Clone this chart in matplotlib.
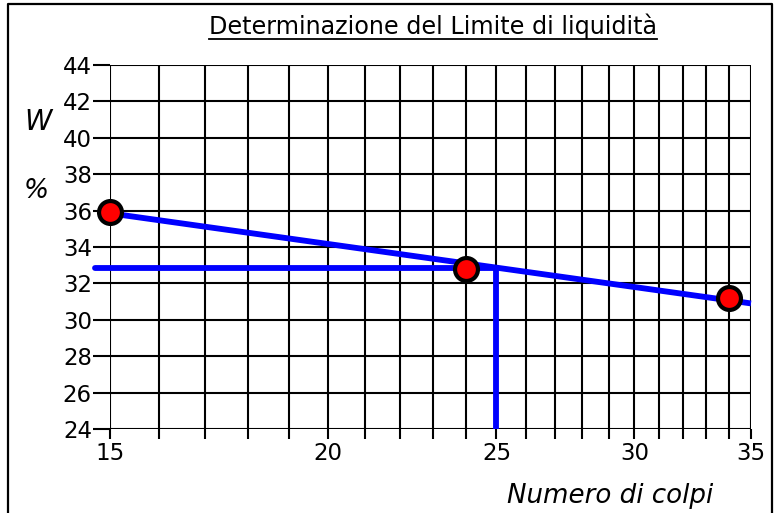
import numpy as np
import matplotlib
matplotlib.use("Agg")
import matplotlib.pyplot as plt
from matplotlib.ticker import FixedLocator, NullFormatter, FixedFormatter
from matplotlib.lines import Line2D

plt.rcParams['font.family'] = ['DejaVu Sans']

# Measured points: number of blows vs water content (%)
colpi = [15, 24, 34]
umidita = [35.9, 32.8, 31.2]

# Fitted flow line (semi-log) end points
retta_x = [15, 35]
retta_y = [35.85, 30.9]

# Liquid limit read at 25 blows
n_rif = 25
w_ll = 32.85
x_inizio_orizz = 14.7

x_major = [15, 20, 25, 30, 35]
x_minor = list(range(15, 36))
y_ticks = list(range(24, 45, 2))

W, H = 782, 513
fig = plt.figure(figsize=(W / 100, H / 100), dpi=100)
ax = fig.add_axes([110 / W, (H - 429) / H, (751 - 110) / W, (429 - 65) / H])

ax.set_xscale('log')
ax.set_xlim(15, 35)
ax.set_ylim(24, 44)

# grid: every blow count vertically, every 2 % horizontally
for xv in x_minor:
    ax.axvline(xv, color='black', lw=1.5, zorder=1)
for yv in y_ticks:
    ax.axhline(yv, color='black', lw=1.5, zorder=1)

ax.xaxis.set_major_locator(FixedLocator(x_major))
ax.xaxis.set_major_formatter(FixedFormatter([str(v) for v in x_major]))
ax.xaxis.set_minor_locator(FixedLocator([v for v in x_minor if v not in x_major]))
ax.xaxis.set_minor_formatter(NullFormatter())
ax.set_yticks(y_ticks)

ax.tick_params(axis='x', which='both', direction='out', length=7, width=1.5,
               labelsize=16.5, pad=2)
ax.tick_params(axis='y', direction='out', length=12, width=1.5,
               labelsize=16.5, pad=1)
for s in ax.spines.values():
    s.set_visible(False)

blu = '#0000ff'
# reading lines for the liquid limit
ax.plot([x_inizio_orizz, n_rif], [w_ll, w_ll], color=blu, lw=4.2,
        solid_capstyle='round', clip_on=False, zorder=3)
ax.plot([n_rif, n_rif], [w_ll, 24], color=blu, lw=4.2,
        solid_capstyle='butt', clip_on=False, zorder=3)
# flow line
ax.plot(retta_x, retta_y, color=blu, lw=4.2, solid_capstyle='butt',
        clip_on=False, zorder=4)
# measurements
ax.plot(colpi, umidita, linestyle='none', marker='o', markersize=16.5,
        markerfacecolor='red', markeredgecolor='black', markeredgewidth=3,
        clip_on=False, zorder=5)

# labels
fig.text(38 / W, 1 - 122 / H, 'W', fontsize=20, style='italic',
         ha='center', va='center')
fig.text(36 / W, 1 - 191 / H, '%', fontsize=19, style='italic',
         ha='center', va='center')
fig.text(610 / W, 1 - 503 / H, 'Numero di colpi', fontsize=18.8,
         style='italic', ha='center', va='baseline')

titolo = fig.text(433 / W, 1 - 34 / H, 'Determinazione del Limite di liquidità',
                  fontsize=17.2, ha='center', va='baseline')
fig.canvas.draw()
bb = titolo.get_window_extent(fig.canvas.get_renderer())
yu = (H - 38.5) / H
fig.add_artist(Line2D([bb.x0 / W, bb.x1 / W], [yu, yu], color='black',
                      lw=1.3, transform=fig.transFigure))

# frame around the figure (bottom edge lies below the image)
fig.add_artist(Line2D([8 / W, 8 / W, 772 / W, 772 / W],
                      [0, 1 - 4 / H, 1 - 4 / H, 0], color='black', lw=1.6,
                      transform=fig.transFigure))

fig.savefig('out.png', dpi=100)
